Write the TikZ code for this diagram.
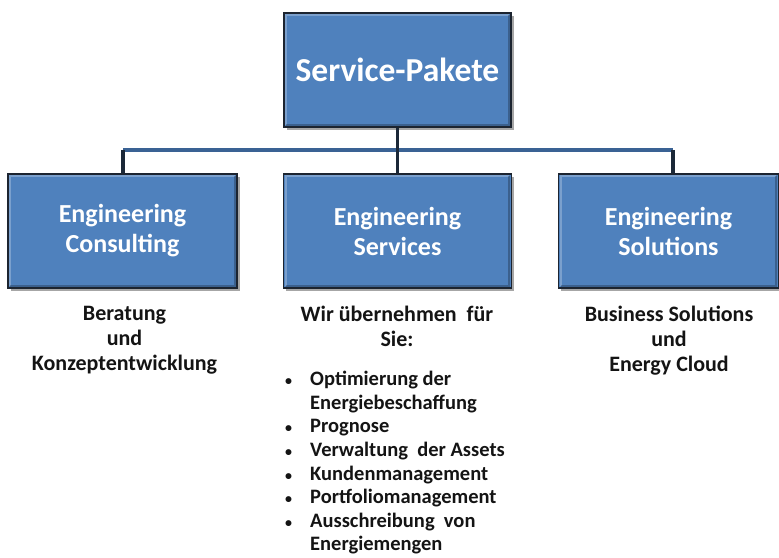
\documentclass[tikz,border=0pt]{standalone}
\usepackage{fontspec}
\setmainfont{Carlito}
\usetikzlibrary{shadows}
\definecolor{boxblue}{RGB}{79,129,189}
\definecolor{boxedge}{RGB}{28,36,48}
\definecolor{hblue}{RGB}{58,98,148}
\definecolor{vdark}{RGB}{27,40,56}
\definecolor{txt}{RGB}{20,20,20}
\begin{document}
\begin{tikzpicture}[x=1pt,y=-1pt,
  pkg/.style={draw=boxedge, line width=1.4pt, fill=boxblue, text=white,
    font=\bfseries\fontsize{26}{30}\selectfont, align=center, inner sep=0pt,
    drop shadow={shadow xshift=2.5pt, shadow yshift=-2.5pt, opacity=.35, fill=black}},
  hline/.style={draw=hblue, line width=3.4pt},
  vline/.style={draw=vdark, line width=3.4pt},
  desc/.style={text=txt, font=\bfseries\fontsize{22}{25}\selectfont, align=center, inner sep=0pt, anchor=north},
  bevlight/.style={draw=white, opacity=.25, line width=2pt},
  bevdark/.style={draw=black, opacity=.25, line width=2pt}]
\useasboundingbox (0,0) rectangle (779,557);
\fill[white] (0,0) rectangle (779,557);

\coordinate (hl) at (123,150);
\coordinate (hr) at (673,150);
\coordinate (hm) at (397.5,150);

% connectors
\draw[hline] (hl) -- (hr);

\node[pkg, minimum width=227pt, minimum height=114pt, font=\bfseries\fontsize{33.5}{38}\selectfont] (top) at (397.5,70) {Service-Pakete};
\node[pkg, minimum width=229pt, minimum height=114pt] (left) at (122.5,231) {Engineering\\Consulting};
\node[pkg, minimum width=228pt, minimum height=114pt] (mid) at (397.5,231) {Engineering\\Services};
\node[pkg, minimum width=220pt, minimum height=114pt] (right) at (668.5,231) {Engineering\\Solutions};

\draw[vline] (top.south) -- (hm);
\draw[vline] (hm) -- (mid.north);
\draw[vline] (hl) -- (hl |- left.north);
\draw[vline] (hr) -- (hr |- right.north);

% bevel edges
\foreach \n in {top,left,mid,right}{
  \draw[bevlight] ([shift={(3,-3)}]\n.south west) -- ([shift={(3,3)}]\n.north west) -- ([shift={(-3,3)}]\n.north east);
  \draw[bevdark] ([shift={(-3,3)}]\n.north east) -- ([shift={(-3,-3)}]\n.south east) -- ([shift={(3,-3)}]\n.south west);
}

\node[desc] (dl) at (124.5,306) {Beratung\\und\\Konzeptentwicklung};
\node[desc] (dm) at (397,306) {Wir übernehmen\ \ für\\Sie:};
\node[desc] (dr) at (669,306) {Business Solutions\\und\\Energy Cloud};

\node[text=txt, font=\bfseries\fontsize{20.5}{23.6}\selectfont, align=left, inner sep=0pt, anchor=north west] (list) at (285,371)
{\makebox[25pt][l]{\fontsize{14}{14}\selectfont•}Optimierung der\\
 \hspace*{25pt}Energiebeschaffung\\
 \makebox[25pt][l]{\fontsize{14}{14}\selectfont•}Prognose\\
 \makebox[25pt][l]{\fontsize{14}{14}\selectfont•}Verwaltung\ \ der Assets\\
 \makebox[25pt][l]{\fontsize{14}{14}\selectfont•}Kundenmanagement\\
 \makebox[25pt][l]{\fontsize{14}{14}\selectfont•}Portfoliomanagement\\
 \makebox[25pt][l]{\fontsize{14}{14}\selectfont•}Ausschreibung\ \ von\\
 \hspace*{25pt}Energiemengen};
\end{tikzpicture}
\end{document}
